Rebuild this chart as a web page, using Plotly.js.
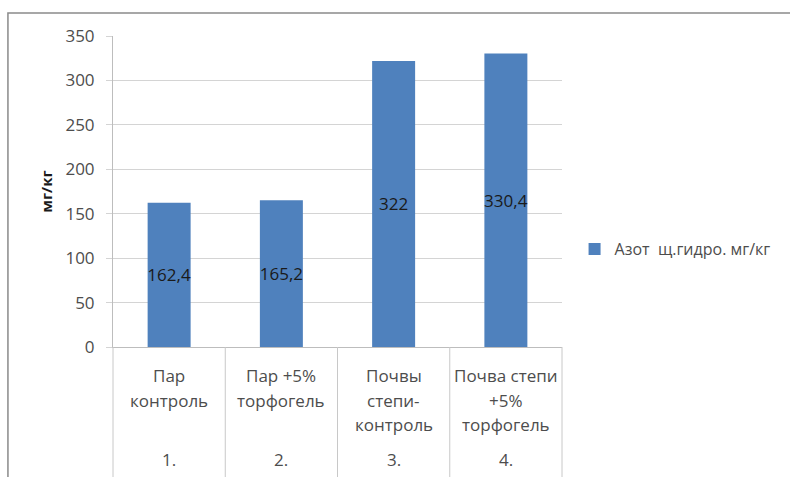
<!DOCTYPE html>
<html>
<head>
<meta charset="utf-8">
<script src="https://cdn.plot.ly/plotly-3.0.1.min.js"></script>
<style>
  html, body { margin: 0; padding: 0; background: #ffffff; }
  #chart { width: 790px; height: 477px; }
</style>
</head>
<body>
<div id="chart"></div>
<script>
// Category labels, one array of text lines per column
const categoryLines = [
  ['Пар', 'контроль'],
  ['Пар +5%', 'торфогель'],
  ['Почвы', 'степи-', 'контроль'],
  ['Почва степи', '+5%', 'торфогель']
];
// Second-level labels under each column
const categoryNumbers = ['1.', '2.', '3.', '4.'];
// Alkaline-hydrolysable nitrogen, mg/kg
const nitrogen = [162.4, 165.2, 322, 330.4];
const seriesName = 'Азот\u00A0 щ.гидро. мг/кг';
const yTitle = 'мг/кг';

const FONT = '"Open Sans", Lato, sans-serif';
const TEXT_GRAY = '#4d4d4d';
const GRID = '#d4d4d4';

const categories = categoryLines.map(lines => lines.join(' '));
const n = categories.length;

const trace = {
  type: 'bar',
  name: seriesName,
  x: categories,
  y: nitrogen,
  marker: { color: '#4f81bd' },
  texttemplate: '%{y}',
  textposition: 'inside',
  insidetextanchor: 'middle',
  constraintext: 'none',
  textangle: 0,
  textfont: { family: FONT, size: 17, color: '#1a1a1a' },
  hoverinfo: 'x+y',
  showlegend: true
};

// Category label annotations, placed below the axis line by line
const annotations = [];
const firstLineY = -0.093;
const lineStep = 0.0785;
categoryLines.forEach((lines, i) => {
  lines.forEach((line, k) => {
    annotations.push({
      xref: 'x', yref: 'paper',
      x: categories[i], y: firstLineY - k * lineStep,
      text: line, showarrow: false,
      xanchor: 'center', yanchor: 'middle',
      font: { family: FONT, size: 17, color: TEXT_GRAY }
    });
  });
  annotations.push({
    xref: 'x', yref: 'paper',
    x: categories[i], y: -0.362,
    text: categoryNumbers[i], showarrow: false,
    xanchor: 'center', yanchor: 'middle',
    font: { family: FONT, size: 17, color: TEXT_GRAY }
  });
});

// Vertical dividers between category cells, below the axis
const shapes = [];
for (let i = 0; i <= n; i++) {
  shapes.push({
    type: 'line', xref: 'paper', yref: 'paper',
    x0: i / n, x1: i / n, y0: 0, y1: -0.45,
    line: { color: '#c8c8c8', width: 1 }
  });
}
// Outer chart frame
shapes.push({
  type: 'rect', xref: 'paper', yref: 'paper',
  x0: -0.234, x1: 1.6, y0: -0.6, y1: 1.074,
  line: { color: '#8a8a8a', width: 1.5 },
  fillcolor: 'rgba(0,0,0,0)'
});

const layout = {
  width: 790, height: 477,
  margin: { l: 113, r: 228, t: 36, b: 130, pad: 0 },
  paper_bgcolor: '#ffffff',
  plot_bgcolor: '#ffffff',
  separators: ', ',
  font: { family: FONT, size: 17, color: TEXT_GRAY },
  bargap: 0.617,
  showlegend: true,
  legend: {
    x: 1.028, xanchor: 'left',
    y: 0.315, yanchor: 'middle',
    font: { family: FONT, size: 16, color: TEXT_GRAY },
    bgcolor: 'rgba(0,0,0,0)'
  },
  xaxis: {
    type: 'category',
    range: [-0.5, n - 0.5],
    showticklabels: false,
    ticks: '',
    showgrid: false,
    showline: true,
    linecolor: '#bdbdbd',
    linewidth: 1,
    fixedrange: true
  },
  yaxis: {
    range: [0, 350],
    dtick: 50,
    tick0: 0,
    showgrid: true,
    gridcolor: GRID,
    gridwidth: 1,
    zeroline: true,
    zerolinecolor: '#bdbdbd',
    zerolinewidth: 1,
    showline: true,
    linecolor: '#bdbdbd',
    linewidth: 1,
    ticks: 'outside',
    ticklen: 6,
    tickcolor: GRID,
    ticklabelstandoff: 8,
    tickfont: { family: FONT, size: 17, color: TEXT_GRAY },
    title: {
      text: '<b>' + yTitle + '</b>',
      font: { family: FONT, size: 15, color: '#1a1a1a' },
      standoff: 9
    },
    automargin: false,
    fixedrange: true
  },
  annotations: annotations,
  shapes: shapes
};

Plotly.newPlot('chart', [trace], layout, { displayModeBar: false, staticPlot: true });
</script>
</body>
</html>
